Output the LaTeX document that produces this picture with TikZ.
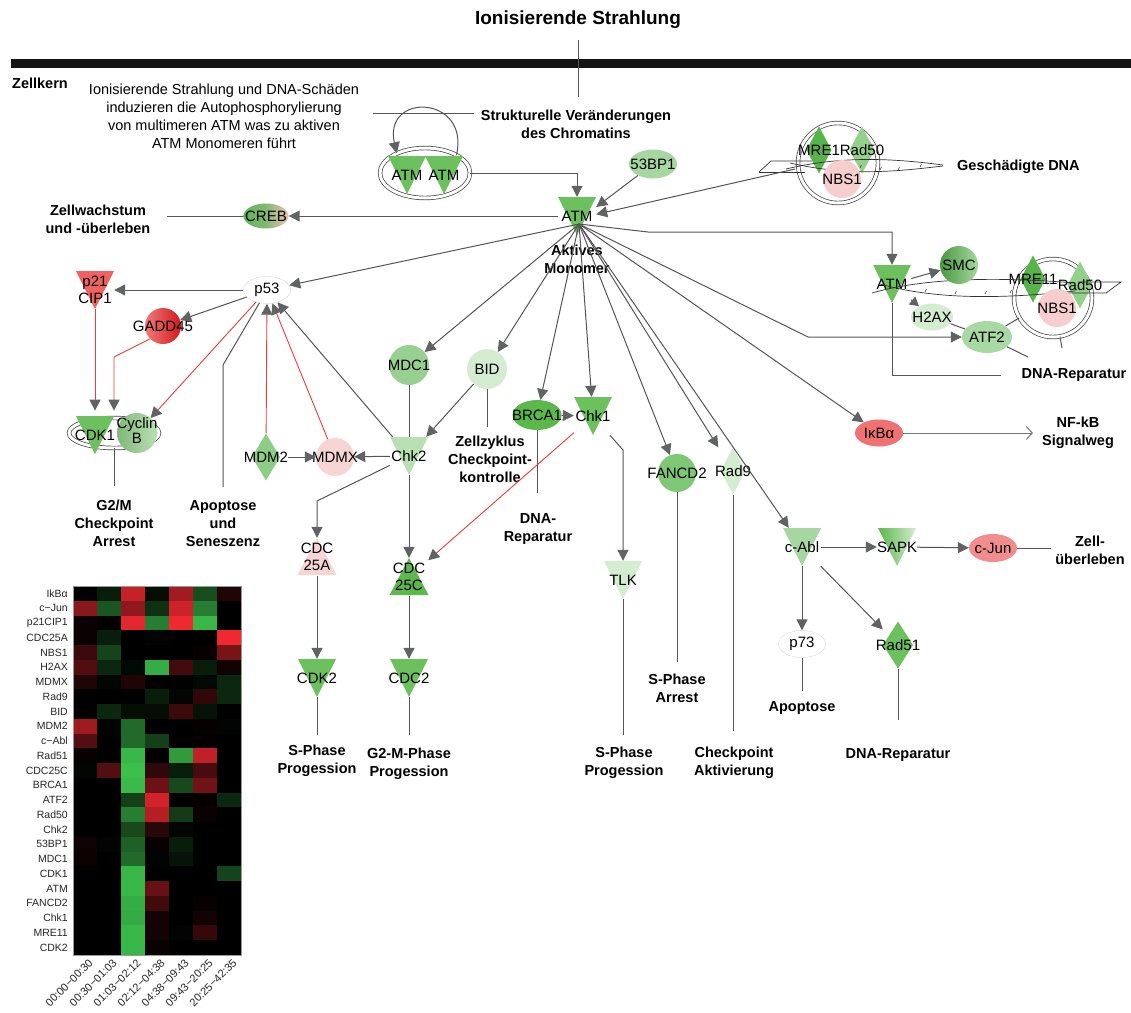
\documentclass[tikz,border=0pt]{standalone}
\usepackage{fontspec}
\setmainfont{Liberation Sans}
\usetikzlibrary{arrows.meta,shapes.geometric,calc}

\definecolor{lineg}{HTML}{555555}
\definecolor{arrowg}{HTML}{606364}
\definecolor{redl}{HTML}{EE3A3A}
\definecolor{gATM}{HTML}{6CC15E}
\definecolor{gCDCc}{HTML}{5DB94E}
\definecolor{gMRE}{HTML}{56B44A}
\definecolor{gRadf}{HTML}{93D08A}
\definecolor{gBP}{HTML}{A6D7A0}
\definecolor{gMDC}{HTML}{98D092}
\definecolor{gFAN}{HTML}{7DC775}
\definecolor{gAbl}{HTML}{A7D7A1}
\definecolor{gATF}{HTML}{A9D9A3}
\definecolor{gChk}{HTML}{B8E0B2}
\definecolor{gLight}{HTML}{D4ECD0}
\definecolor{gMDM}{HTML}{8ECD86}
\definecolor{gBRC}{HTML}{5BB84A}
\definecolor{rP21}{HTML}{F06262}
\definecolor{rIkb}{HTML}{EF7171}
\definecolor{rJun}{HTML}{F28D8D}
\definecolor{pNBS}{HTML}{F7CDCD}
\definecolor{pMDX}{HTML}{F8D5D5}
\definecolor{creg}{HTML}{5DB55A}
\definecolor{crep}{HTML}{F0C2B2}
\definecolor{hmr}{HTML}{F02830}
\definecolor{hmg}{HTML}{3CC04C}

\tikzset{
  arr/.style={draw=lineg, line width=1pt, -{Triangle[length=11pt,width=11pt,color=arrowg]}},
  redarr/.style={draw=redl, line width=0.9pt, -{Triangle[length=11pt,width=11pt,color=arrowg]}},
  plain/.style={draw=lineg, line width=1pt},
  openarr/.style={draw=lineg!80, line width=1pt, -{Straight Barb[length=6pt,width=13pt]}},
  lab/.style={font=\fontsize{14.5}{18}\selectfont\bfseries, align=center, inner sep=0pt},
  ntxt/.style={font=\fontsize{15}{17}\selectfont, align=center, inner sep=0pt},
  annot/.style={font=\fontsize{14.5}{18}\selectfont, align=center, inner sep=0pt},
  tri/.style={ntxt, minimum width=38pt, minimum height=38pt},
  oval/.style={ellipse, ntxt},
  ball/.style={circle, ntxt},
  cplx/.style={draw=black!75, double, double distance=3pt, line width=0.7pt, inner sep=0pt},
  dnal/.style={draw=black!80, line width=0.7pt},
  hmlab/.style={font=\fontsize{10.5}{12}\selectfont, inner sep=0pt, text=black!85},
  hmcol/.style={font=\fontsize{11}{12}\selectfont, inner sep=0pt, text=black!85}
}

\newcommand\ztxt[1]{\makebox[0pt]{#1}}
% down-pointing triangle: name, centre, fill options, text
\newcommand\dtri[4]{%
  \path[#3, shift={(#2)}] (-19,-19) -- (19,-19) -- (0,19) -- cycle;
  \node[tri] (#1) at (#2) {#4};}
% up-pointing triangle
\newcommand\utri[4]{%
  \path[#3, shift={(#2)}] (-19.5,18) -- (19.5,18) -- (0,-19) -- cycle;
  \node[tri] (#1) at (#2) {#4};}
% diamond: name, centre, half width, fill options, text
\newcommand\dmd[5]{%
  \path[#4, shift={(#2)}] (-#3,0) -- (0,-23.5) -- (#3,0) -- (0,23.5) -- cycle;
  \node[ntxt, minimum width=2*#3pt, minimum height=47pt] (#1) at (#2) {#5};}

\begin{document}
\begin{tikzpicture}[x=1pt,y=-1pt]
\fill[white] (0,0) rectangle (1131,1012);
\useasboundingbox (0,0) rectangle (1131,1012);

% ---------- header ----------
\node[lab, font=\fontsize{19}{22}\selectfont\bfseries] (title) at (578,20) {Ionisierende Strahlung};
\fill[black!92] (11,59) rectangle (1131,68);
\coordinate (irA) at (578,40);
\coordinate (irB) at (578,97);
\draw[plain] (irA) -- (irB);
\node[lab, anchor=west] (kern) at (12,83) {Zellkern};
\node[annot] (anno) at (224,116) {Ionisierende Strahlung und DNA-Schäden\\induzieren die Autophosphorylierung\\von multimeren ATM was zu aktiven\\ATM Monomeren führt};
\node[lab] (strukt) at (576,124) {Strukturelle Veränderungen\\des Chromatins};

% ---------- ATM multimer ----------
\node[cplx, ellipse, minimum width=90pt, minimum height=50pt] (atmcx) at (425,173) {};
\dtri{atmA}{407,175}{fill=gATM}{ATM}
\dtri{atmB}{444,175}{fill=gATM}{ATM}
\coordinate (annoR) at (373,113);
\draw[plain, shorten >=7pt] (annoR) -- (annoR -| strukt.west);
\draw[arr] (atmcx.30) .. controls (470,95) and (383,92) .. (atmcx.145);

% ---------- active ATM ----------
\dtri{atm}{577,216}{fill=gATM}{ATM}
\coordinate (atmhub) at (579,224);
\node[lab] (aktmon) at (577,259) {Aktives\\Monomer};
\draw[arr] (atmcx.east) -| (atm.north);

\node[oval, fill=gBP, minimum width=48pt, minimum height=29pt] (bp) at (653,164) {\ztxt{53BP1}};
\draw[arr] (bp) -- (atm.25);

% ---------- damaged DNA with MRN complex ----------
\node[cplx, circle, minimum size=80pt] (dnacx) at (838,163) {};
\dmd{mre}{819,150}{12.5}{fill=gMRE}{MRE1}
\dmd{radA}{862,150}{12.5}{fill=gRadf}{Rad50}
\draw[dnal] (759,172) -- (771,161) -- (812,161);
\draw[dnal] (759,172) -- (805,172);
\draw[dnal] (786,169) .. controls (840,156) and (890,158) .. (943,165);
\draw[dnal] (790,163) .. controls (850,177) and (900,171) .. (943,166);
\foreach \tx/\ty in {860/168,880/170,898/170,920/167}
  \draw[dnal, line width=0.5pt] (\tx,\ty) -- ++(1.5,-3);
\node[ball, fill=pNBS, minimum size=38pt] (nbs) at (842,179) {\ztxt{NBS1}};
\node[lab, anchor=west] (gdna) at (957,167) {Geschädigte DNA};
\coordinate (dnaA) at (795,169);
\draw[arr] (dnaA) -- (atm.5);

% ---------- CREB ----------
\node[oval, minimum width=45pt, minimum height=25pt, left color=creg, right color=crep, middle color=creg!75!crep] (creb) at (266,216) {\ztxt{CREB}};
\draw[arr] (atm) -- (creb);
\node[lab] (zw) at (98,219) {Zellwachstum\\und -überleben};
\draw[plain, shorten >=16pt] (creb.west) -- (zw.east |- creb.west);

% ---------- p53 branch ----------
\node[oval, fill=white, draw=black!15, minimum width=47pt, minimum height=27pt] (p53) at (267,290) {\ztxt{p53}};
\draw[arr] (atmhub) -- (p53);
\dtri{p21}{95,290}{fill=rP21}{p21\\CIP1}
\draw[arr] (p53) -- (p21);
\node[ball, minimum size=36pt, left color=rP21!85!white, right color=red!80!black!90!white] (gadd) at (163,326) {\ztxt{GADD45}};
\draw[arr] (p53) -- (gadd);

\node[cplx, ellipse, minimum width=90pt, minimum height=30pt] (cdkcx) at (114,433) {};
\dtri{cdk}{95,435}{fill=gATM}{CDK1}
\node[ball, minimum size=40pt, left color=gMDM!90!black, right color=gChk] (cycb) at (137,433) {\ztxt{\begin{tabular}{@{}c@{}}Cyclin\\[-2pt]B\end{tabular}}};
\draw[redarr, shorten >=7pt] (p21) -- (p21 |- cdkcx.north);
\coordinate (gbend) at (114,357);
\draw[redarr, shorten >=7pt] (gadd.225) -- (gbend) -- (gbend |- cdkcx.north);
\draw[redarr] (p53) -- (cycb);
\node[lab] (g2m) at (114,523) {G2/M\\Checkpoint\\Arrest};
\draw[plain, shorten >=13pt] (cdkcx) -- (cdkcx |- g2m.north);

\node[lab] (apo) at (223,524) {Apoptose\\und\\Seneszenz};
\coordinate (apobend) at (223,365);
\draw[plain, shorten >=14pt] (p53) -- (apobend) -- (apobend |- apo.north);

\dmd{mdm}{266,457}{14}{fill=gMDM}{MDM2}
\node[ball, fill=pMDX, minimum size=38pt] (mdmx) at (335,457) {\ztxt{MDMX}};
\dtri{chkb}{409,456}{fill=gChk}{Chk2}
\draw[redarr] (mdm) -- (p53);
\draw[redarr] (mdmx) -- (p53);
\draw[arr] (chkb) -- (p53);
\draw[arr] (mdm) -- (mdmx);
\draw[arr] (chkb) -- (mdmx);

% ---------- MDC1, BID ----------
\node[ball, fill=gMDC, minimum size=40pt] (mdc) at (409,365) {\ztxt{MDC1}};
\node[ball, fill=gLight, minimum size=40pt] (bid) at (487,369) {\ztxt{BID}};
\draw[arr] (atmhub) -- (mdc);
\draw[arr] (atmhub) -- (bid);
\draw[plain] (mdc) -- (chkb);
\draw[arr] (bid) -- (chkb);
\node[lab] (zz) at (490,459) {Zellzyklus\\Checkpoint-\\kontrolle};
\draw[plain, shorten >=8pt] (bid) -- (bid |- zz.north);

% ---------- BRCA1, Chk1 ----------
\node[oval, fill=gBRC, minimum width=49pt, minimum height=30pt] (brca) at (537,415) {\ztxt{BRCA1}};
\dtri{chka}{593,416}{fill=gATM}{Chk1}
\draw[arr] (atmhub) -- (brca);
\draw[arr] (atmhub) -- (chka);
\draw[arr] (brca) -- (chka);
\node[lab] (drb) at (538,529) {DNA-\\Reparatur};
\draw[plain, shorten >=20pt] (brca) -- (brca |- drb.north);

% ---------- CDC25 cascade ----------
\utri{cdca}{317,557}{fill=pMDX}{CDC\\25A}
\utri{cdcc}{409,577}{fill=gCDCc}{CDC\\25C}
\dtri{cdkb}{317,678}{fill=gATM}{CDK2}
\dtri{cdcb}{409,678}{fill=gATM}{CDC2}
\coordinate (abend) at (317,501);
\draw[arr] (chkb) -- (abend) -- (cdca);
\draw[arr] (chkb) -- (cdcc);
\draw[redarr] (chka) -- (cdcc);
\draw[arr] (cdca) -- (cdkb);
\draw[arr] (cdcc) -- (cdcb);
\node[lab] (spa) at (317,761) {S-Phase\\Progession};
\node[lab] (spb) at (409,764) {G2-M-Phase\\Progession};
\draw[plain, shorten >=10pt] (cdkb) -- (cdkb |- spa.north);
\draw[plain, shorten >=13pt] (cdcb) -- (cdcb |- spb.north);

% ---------- TLK ----------
\dtri{tlk}{623,580}{fill=gLight}{TLK}
\coordinate (tlkbend) at (623,450);
\draw[arr] (chka) -- (tlkbend) -- (tlk);
\node[lab] (spc) at (624,763) {S-Phase\\Progession};
\draw[plain, shorten >=12pt] (tlk) -- (tlk |- spc.north);

% ---------- FANCD2, Rad9 ----------
\node[ball, fill=gFAN, minimum size=38pt] (fan) at (677,473) {\ztxt{FANCD2}};
\dmd{rad}{733,471}{12.5}{fill=gLight}{Rad9}
\draw[arr] (atmhub) -- (fan);
\draw[arr] (atmhub) -- (rad);
\node[lab] (sar) at (677,688) {S-Phase\\Arrest};
\draw[plain, shorten >=11pt] (fan) -- (fan |- sar.north);
\node[lab] (ckp) at (734,763) {Checkpoint\\Aktivierung};
\draw[plain, shorten >=16pt] (rad) -- (rad |- ckp.north);

% ---------- c-Abl branch ----------
\dtri{abl}{802,547}{fill=gAbl}{c-Abl}
\dtri{sapk}{897,547}{left color=gBRC, right color=gLight}{SAPK}
\node[oval, fill=rJun, minimum width=48pt, minimum height=28pt] (jun) at (993,548) {\ztxt{c-Jun}};
\node[oval, fill=white, draw=black!15, minimum width=47pt, minimum height=27pt] (pse) at (802,644) {\ztxt{p73}};
\dmd{rdf}{898,645}{15}{fill=gATM}{\ztxt{Rad51}}
\draw[arr] (atmhub) -- (abl);
\draw[arr] (abl) -- (sapk);
\draw[arr] (sapk) -- (jun);
\draw[arr] (abl) -- (pse);
\draw[arr] (abl) -- (rdf);
\node[lab] (zue) at (1090,550) {Zell-\\überleben};
\draw[plain, shorten >=4pt] (jun) -- (jun -| zue.west);
\node[lab] (apb) at (802,708) {Apoptose};
\draw[plain, shorten >=10pt] (pse) -- (pse |- apb.north);
\node[lab] (drc) at (898,755) {DNA-Reparatur};
\draw[plain, shorten >=28pt] (rdf) -- (rdf |- drc.north);

% ---------- IkBa ----------
\node[oval, fill=rIkb, minimum width=48pt, minimum height=27pt] (ikb) at (879,433) {\ztxt{IκBα}};
\draw[arr] (atmhub) -- (ikb);
\node[lab] (nfk) at (1078,433) {NF-kB\\Signalweg};
\draw[openarr, shorten >=9pt] (ikb) -- (ikb -| nfk.west);

% ---------- ATM at the break site ----------
\node[cplx, circle, minimum size=78pt] (cxb) at (1053,298) {};
\dtri{atmc}{892,284}{fill=gATM}{ATM}
\dmd{mrf}{1033,279}{12.5}{fill=gMRE}{MRE11}
\dmd{radB}{1080,285}{12.5}{fill=gRadf}{Rad50}
\draw[dnal] (872,293) .. controls (920,279) and (990,276) .. (1075,283);
\draw[dnal] (880,284) .. controls (940,301) and (1010,298) .. (1075,291);
\draw[dnal] (1068,293) -- (1106,293) -- (1121,282) -- (1078,282);
\foreach \tx/\ty in {925/292,955/294,985/294,1010/293}
  \draw[dnal, line width=0.5pt] (\tx,\ty) -- ++(1.5,-3);
\node[ball, fill=pNBS, minimum size=38pt] (nbsb) at (1057,308) {\ztxt{NBS1}};
\node[ball, minimum size=38pt, left color=gMRE!85!black, right color=gBP] (smc) at (959,265) {\ztxt{SMC}};
\node[oval, fill=gLight, minimum width=42pt, minimum height=27pt] (hax) at (932,317) {\ztxt{H2AX}};
\node[oval, fill=gATF, minimum width=50pt, minimum height=32pt] (atf) at (987,337) {\ztxt{ATF2}};
\coordinate (atmbend) at (648,232);
\draw[arr] (atmhub) -- (atmbend) -| (atmc);
\coordinate (atfbend) at (808,337);
\draw[arr] (atmhub) -- (atfbend) -- (atf);
\draw[arr] (atmc) -- (smc);
\draw[draw=lineg, line width=1pt, -{Triangle[length=9pt,width=10pt,color=arrowg]}] (atmc) -- (hax);
\draw[plain] (hax) -- (atf);
\draw[plain] (atf) -- (cxb);
\coordinate (atfend) at (1028,357);
\draw[plain] (atf) -- (atfend);
\coordinate (cxend) at (1062,348);
\draw[plain] (cxb) -- (cxend);
\node[lab] (dra) at (1074,375) {DNA-Reparatur};
\draw[plain, shorten >=20pt] (atmc) |- (dra.west);

% ---------- expression heat map ----------
\foreach \row [count=\i from 0] in {
  {0,-15,82,-7,68,-40,13},
  {57,-45,60,-25,85,-65,0},
  {4,0,95,-65,100,-95,0},
  {4,-15,0,-2,0,0,100},
  {25,-35,0,0,0,3,50},
  {33,-20,-4,-90,28,-15,7},
  {13,-3,13,0,0,-4,-20},
  {0,0,0,-15,-3,20,-20},
  {0,-20,-7,-7,25,-10,0},
  {66,-2,-55,0,0,2,-2},
  {35,0,-55,-33,0,0,0},
  {3,0,-95,0,-80,80,0},
  {-3,35,-100,20,-15,30,0},
  {0,0,-97,45,-38,47,0},
  {0,0,-33,88,0,2,-20},
  {0,0,-65,75,-30,4,0},
  {0,0,-38,17,-3,0,0},
  {6,-2,-50,3,-15,0,0},
  {5,0,-55,-2,-10,0,0},
  {0,0,-95,0,0,0,-35},
  {0,0,-95,43,0,0,0},
  {0,0,-90,27,0,3,0},
  {0,0,-88,8,0,7,0},
  {0,0,-95,8,-2,22,0},
  {0,0,-95,4,0,0,0}}{
  \foreach \v [count=\j from 0] in \row {
    \pgfmathtruncatemacro\a{abs(\v)}
    \ifnum\v<0 \def\hc{hmg}\else\def\hc{hmr}\fi
    \fill[\hc!\a!black] ({73+24*\j},{586+14.76*\i}) rectangle ++(24.3,15.1);
  }
}
\draw[black!40, line width=0.5pt] (73,586) rectangle (241,955);
\foreach \t [count=\i from 0] in {IkBα,c−Jun,p21CIP1,CDC25A,NBS1,H2AX,MDMX,Rad9,BID,MDM2,c−Abl,Rad51,CDC25C,BRCA1,ATF2,Rad50,Chk2,53BP1,MDC1,CDK1,ATM,FANCD2,Chk1,MRE11,CDK2}
  \node[hmlab, anchor=east] (rl\i) at (68,{586+14.76*(\i+0.5)}) {\t};
\foreach \t [count=\j from 0] in {00:00−00:30,00:30−01:03,01:03−02:12,02:12−04:38,04:38−09:43,09:43−20:25,20:25−42:35}
  \node[hmcol, rotate=45, anchor=east] (cl\j) at ({73+24*(\j+0.5)+6},961) {\t};
\end{tikzpicture}
\end{document}
